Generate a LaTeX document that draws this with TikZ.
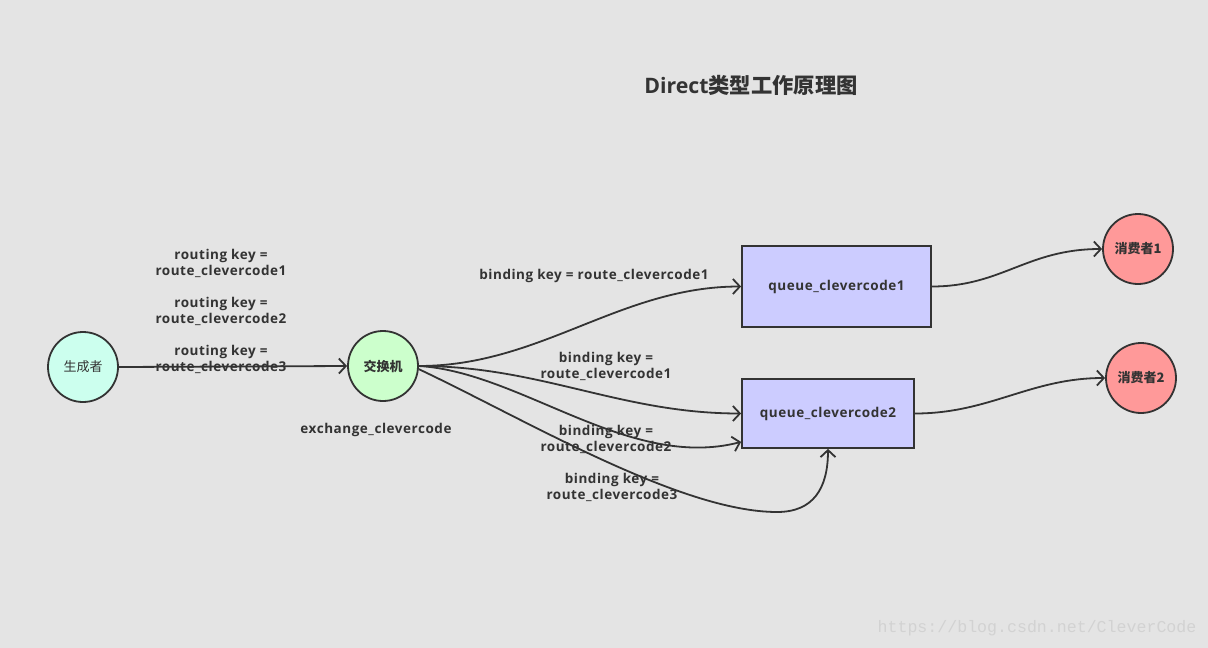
\documentclass[tikz,border=0pt]{standalone}
\usepackage{fontspec}
\setmainfont{Open Sans}
\newfontfamily\latinsp{Open Sans}[LetterSpace=4]
\newfontfamily\cjk{Noto Sans CJK SC}
\newfontfamily\wmfont{Liberation Mono}
\usetikzlibrary{arrows.meta}
\definecolor{bg}{HTML}{E4E4E4}
\definecolor{ink}{HTML}{333333}
\definecolor{prodc}{HTML}{CCFFEE}
\definecolor{exc}{HTML}{CCFFCC}
\definecolor{qc}{HTML}{CCCCFF}
\definecolor{conc}{HTML}{FF9999}
\definecolor{wm}{HTML}{D2D2D2}
\begin{document}
\begin{tikzpicture}[x=1pt,y=-1pt,
  circ/.style={circle,draw=ink,line width=1.8pt,minimum size=70pt,inner sep=0pt,text=ink},
  qbox/.style={rectangle,draw=ink,line width=1.8pt,inner sep=0pt,text=ink,font=\latinsp\bfseries\fontsize{13.5}{15}\selectfont},
  lbl/.style={text=ink,align=center,font=\latinsp\bfseries\fontsize{13.5}{16}\selectfont,inner sep=0pt},
  arr/.style={draw=ink,line width=1.8pt,-{Straight Barb[length=7pt,width=15pt]}}
]
\fill[bg] (0,0) rectangle (1208,648);
\useasboundingbox (0,0) rectangle (1208,648);

\node[text=ink,font=\bfseries\fontsize{21.3}{24}\selectfont] (title) at (751,85) {Direct{\cjk 类型工作原理图}};

\node[circ,fill=prodc,font=\cjk\fontsize{13}{15}\selectfont] (prod) at (83,367) {生成者};
\node[circ,fill=exc,font=\cjk\bfseries\fontsize{13}{15}\selectfont] (ex) at (383,366) {交换机};
\node[qbox,fill=qc,minimum width=189pt,minimum height=81pt] (q1) at (836.5,286.5) {queue\_clevercode1};
\node[qbox,fill=qc,minimum width=172pt,minimum height=69pt] (q2) at (828,413.5) {queue\_clevercode2};
\node[circ,fill=conc,font=\cjk\bfseries\fontsize{13}{15}\selectfont] (c1) at (1138,249) {消费者1};
\node[circ,fill=conc,font=\cjk\bfseries\fontsize{13}{15}\selectfont] (c2) at (1141,378) {消费者2};

\node[lbl] (rk1) at (221,263.5) {routing key =\\route\_clevercode1};
\node[lbl] (rk2) at (221,311.5) {routing key =\\route\_clevercode2};
\node[lbl] (rk3) at (221,359.5) {routing key =\\route\_clevercode3};
\node[lbl] (exname) at (376,429.5) {exchange\_clevercode};
\node[lbl] (bk1) at (594,275.5) {binding key = route\_clevercode1};
\node[lbl] (bk2) at (606,366.5) {binding key =\\route\_clevercode1};
\node[lbl] (bk3) at (606,439.5) {binding key =\\route\_clevercode2};
\node[lbl] (bk4) at (612,487.5) {binding key =\\route\_clevercode3};

\node[text=wm,font=\wmfont\fontsize{16.6}{18}\selectfont,inner sep=0pt] (wmark) at (1037,628) {https://blog.csdn.net/CleverCode};

\coordinate (c4) at (777,512);

\draw[arr] (prod.east) -- (ex.west);
\draw[arr] (ex.east) .. controls +(122,0) and +(-121,0) .. (q1.west);
\draw[arr] (ex.east) .. controls +(122,0) and +(-121,0) .. (q2.west);
\draw[arr] (ex.east) .. controls +(102,6) and +(-112,29) .. ([yshift=7pt]q2.south west);
\draw[arr] (ex.-5) .. controls +(104,49) and +(-97,0) .. (c4) .. controls +(36,0) and +(0,40) .. (q2.south);
\draw[arr] (q1.east) .. controls +(70,0) and +(-75,0) .. (c1.west);
\draw[arr] (q2.east) .. controls +(75,0) and +(-75,0) .. (c2.west);
\end{tikzpicture}
\end{document}
